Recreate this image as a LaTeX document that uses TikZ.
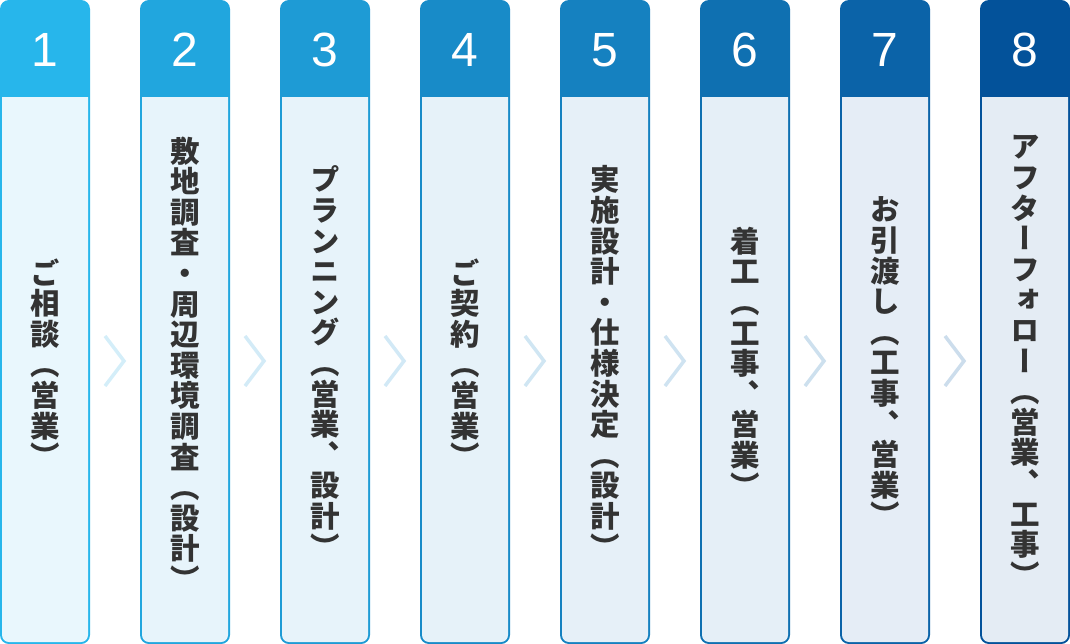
\documentclass[tikz,border=0pt]{standalone}
\usepackage{fontspec}
\usepackage{xcolor}
\setmainfont{Liberation Sans}
\newfontfamily\tatefont[RawFeature=+vert]{Noto Sans CJK JP}

% one character per line, for vertical titles
\newcommand\tatestack[1]{\vbox{\baselineskip=30.6pt\lineskiplimit=-100pt\tateloop#1\relax}}
\def\tateloop#1{\ifx\relax#1\else\hbox to 30pt{\hss#1\hss}\expandafter\tateloop\fi}

% header colours
\definecolor{h1}{HTML}{27B6EB}
\definecolor{h2}{HTML}{21A6DE}
\definecolor{h3}{HTML}{1E9BD5}
\definecolor{h4}{HTML}{188BC8}
\definecolor{h5}{HTML}{1581C0}
\definecolor{h6}{HTML}{0F70B1}
\definecolor{h7}{HTML}{0B63A8}
\definecolor{h8}{HTML}{03529A}
% body colours
\definecolor{f1}{HTML}{E9F7FD}
\definecolor{f2}{HTML}{E7F4FB}
\definecolor{f3}{HTML}{E7F3FA}
\definecolor{f4}{HTML}{E6F2F9}
\definecolor{f5}{HTML}{E6F0F8}
\definecolor{f6}{HTML}{E5EFF7}
\definecolor{f7}{HTML}{E5EDF6}
\definecolor{f8}{HTML}{E4ECF4}
% chevron colours
\definecolor{v1}{HTML}{D4EEF9}
\definecolor{v2}{HTML}{D3EBF7}
\definecolor{v3}{HTML}{D2E9F6}
\definecolor{v4}{HTML}{D0E6F3}
\definecolor{v5}{HTML}{CFE3F1}
\definecolor{v6}{HTML}{CDE0EE}
\definecolor{v7}{HTML}{CCDDEC}
\definecolor{ink}{HTML}{333333}

\begin{document}
\begin{tikzpicture}[
    x=1pt, y=-1pt,
    column/.style={fill=#1, rounded corners=9pt, minimum width=90pt, minimum height=644pt, inner sep=0pt},
    body/.style={fill=#1, rounded corners=7pt, minimum width=86pt, minimum height=565pt, inner sep=0pt},
    band/.style={fill=#1, minimum width=90pt, minimum height=77pt, inner sep=0pt},
    num/.style={text=white, font=\fontsize{48}{48}\selectfont},
    tate/.style={text=ink, inner sep=0pt, font=\tatefont\bfseries\fontsize{29.5}{29.5}\selectfont},
    chev/.style={draw=#1, line width=3.5pt, miter limit=10}
]
    \useasboundingbox (0,0) rectangle (1070,644);

    % Columns: frame, body and header band
    \node[column=h1] (c1) at (45,322) {};  \node[body=f1] (b1) at (45,359.5) {};  \node[band=h1] (t1) at (45,58.5) {};
    \node[column=h2] (c2) at (185,322) {}; \node[body=f2] (b2) at (185,359.5) {}; \node[band=h2] (t2) at (185,58.5) {};
    \node[column=h3] (c3) at (325,322) {}; \node[body=f3] (b3) at (325,359.5) {}; \node[band=h3] (t3) at (325,58.5) {};
    \node[column=h4] (c4) at (465,322) {}; \node[body=f4] (b4) at (465,359.5) {}; \node[band=h4] (t4) at (465,58.5) {};
    \node[column=h5] (c5) at (605,322) {}; \node[body=f5] (b5) at (605,359.5) {}; \node[band=h5] (t5) at (605,58.5) {};
    \node[column=h6] (c6) at (745,322) {}; \node[body=f6] (b6) at (745,359.5) {}; \node[band=h6] (t6) at (745,58.5) {};
    \node[column=h7] (c7) at (885,322) {}; \node[body=f7] (b7) at (885,359.5) {}; \node[band=h7] (t7) at (885,58.5) {};
    \node[column=h8] (c8) at (1025,322) {}; \node[body=f8] (b8) at (1025,359.5) {}; \node[band=h8] (t8) at (1025,58.5) {};

    % Step numbers
    \node[num] (n1) at (45,50) {1};
    \node[num] (n2) at (185,50) {2};
    \node[num] (n3) at (325,50) {3};
    \node[num] (n4) at (465,50) {4};
    \node[num] (n5) at (605,50) {5};
    \node[num] (n6) at (745,50) {6};
    \node[num] (n7) at (885,50) {7};
    \node[num] (n8) at (1025,50) {8};

    % Step titles (vertical)
    \node[tate] (s1) at (45,363) {\tatestack{ご相談︵営業︶}};
    \node[tate] (s2) at (185,363.5) {\tatestack{敷地調査・周辺環境調査︵設計︶}};
    \node[tate] (s3) at (325,362) {\tatestack{プランニング︵営業︑設計︶}};
    \node[tate] (s4) at (465,363) {\tatestack{ご契約︵営業︶}};
    \node[tate] (s5) at (605,362) {\tatestack{実施設計・仕様決定︵設計︶}};
    \node[tate] (s6) at (745,362) {\tatestack{着工︵工事︑営業︶}};
    \node[tate] (s7) at (885,362) {\tatestack{お引渡し︵工事︑営業︶}};
    \node[tate] (s8) at (1025,361) {\tatestack{アフターフォロー︵営業︑工事︶}};

    % Chevrons between columns
    \coordinate (g1) at (115,361);
    \coordinate (g2) at (255,361);
    \coordinate (g3) at (395,361);
    \coordinate (g4) at (535,361);
    \coordinate (g5) at (675,361);
    \coordinate (g6) at (815,361);
    \coordinate (g7) at (955,361);
    \draw[chev=v1, shift={(g1)}] (-10,-25) -- (9,0) -- (-10,25);
    \draw[chev=v2, shift={(g2)}] (-10,-25) -- (9,0) -- (-10,25);
    \draw[chev=v3, shift={(g3)}] (-10,-25) -- (9,0) -- (-10,25);
    \draw[chev=v4, shift={(g4)}] (-10,-25) -- (9,0) -- (-10,25);
    \draw[chev=v5, shift={(g5)}] (-10,-25) -- (9,0) -- (-10,25);
    \draw[chev=v6, shift={(g6)}] (-10,-25) -- (9,0) -- (-10,25);
    \draw[chev=v7, shift={(g7)}] (-10,-25) -- (9,0) -- (-10,25);

\end{tikzpicture}
\end{document}
